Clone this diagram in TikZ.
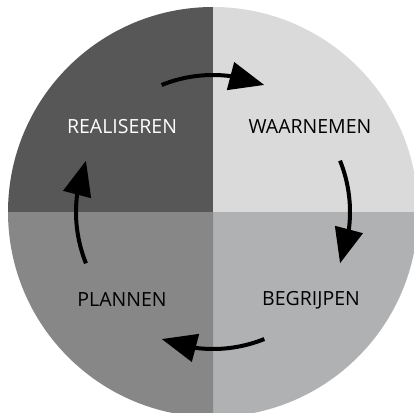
\documentclass[tikz,border=0pt]{standalone}
\usepackage{fontspec}
\setmainfont{Open Sans}
\usetikzlibrary{arrows.meta,bending}
\definecolor{quadA}{HTML}{575757}
\definecolor{quadB}{HTML}{DADADA}
\definecolor{quadC}{HTML}{B0B1B3}
\definecolor{quadD}{HTML}{878787}
\tikzset{
	fase/.style={font=\fontsize{19.5}{22}\selectfont, inner sep=0pt},
	cyclus/.style={line width=4pt, -{Triangle[length=35pt,width=28pt]}}
}
\begin{document}
\begin{tikzpicture}[x=1pt,y=1pt]
		\useasboundingbox (-213,-200) rectangle (201,212);
		\coordinate (c) at (0,0);
		% vier kwadranten
		\fill[quadA] (c) -- (180:205) arc (180:90:205) -- cycle;
		\fill[quadB] (c) -- (90:205) arc (90:0:205) -- cycle;
		\fill[quadC] (c) -- (0:205) arc (0:-90:205) -- cycle;
		\fill[quadD] (c) -- (-90:205) arc (-90:-180:205) -- cycle;
		% fasen
		\node[fase, white] (real) at (-91,85) {REALISEREN};
		\node[fase] (waar) at (97,85) {WAARNEMEN};
		\node[fase] (begr) at (98,-88) {BEGRIJPEN};
		\node[fase] (plan) at (-91,-88) {PLANNEN};
		% pijlen
		\draw[cyclus] ([shift={(112:137)}]c) arc (112:68:137);
		\draw[cyclus] ([shift={(22:137)}]c) arc (22:-22:137);
		\draw[cyclus] ([shift={(-68:137)}]c) arc (-68:-112:137);
		\draw[cyclus] ([shift={(202:137)}]c) arc (202:158:137);
\end{tikzpicture}
\end{document}
